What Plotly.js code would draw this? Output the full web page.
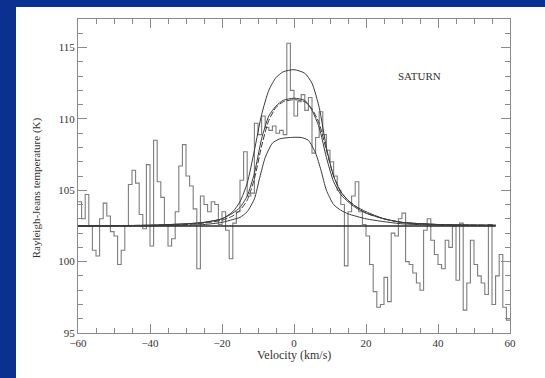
<!DOCTYPE html>
<html><head><meta charset="utf-8">
<script src="https://cdn.plot.ly/plotly-3.0.1.min.js"></script>
<style>html,body{margin:0;padding:0;background:#0a3190;}</style>
</head><body><div id="chart" style="width:545px;height:378px;"></div>
<script>
// Observed spectrum (1 km/s channels)
const velocity = [-60,-59,-58,-57,-56,-55,-54,-53,-52,-51,-50,-49,-48,-47,-46,-45,-44,-43,-42,-41,
 -40,-39,-38,-37,-36,-35,-34,-33,-32,-31,-30,-29,-28,-27,-26,-25,-24,-23,-22,-21,
 -20,-19,-18,-17,-16,-15,-14,-13,-12,-11,-10,-9,-8,-7,-6,-5,-4,-3,-2,-1,
 0,1,2,3,4,5,6,7,8,9,10,11,12,13,14,15,16,17,18,19,
 20,21,22,23,24,25,26,27,28,29,30,31,32,33,34,35,36,37,38,39,
 40,41,42,43,44,45,46,47,48,49,50,51,52,53,54,55,56,57,58,59,60];
const temperature = [104.2,103.0,104.7,102.5,100.8,100.4,103.0,104.1,103.2,102.1,101.8,99.8,100.8,102.5,105.4,106.4,105.5,103.3,102.3,106.8,
 101.1,108.5,105.6,104.5,102.6,101.1,101.6,103.5,106.7,108.2,106.0,105.3,103.7,99.5,104.6,104.0,103.5,104.2,104.0,102.6,
 103.5,102.2,100.2,102.7,103.5,105.7,107.7,104.6,104.8,109.7,108.9,110.2,109.4,109.2,109.5,109.0,109.2,108.9,115.3,112.0,
 110.2,111.2,111.7,110.6,111.5,107.6,108.7,110.5,108.9,107.8,107.0,106.0,105.0,104.0,99.7,103.5,104.6,105.6,103.5,102.6,
 101.8,99.8,97.9,96.8,97.0,98.9,97.2,102.0,101.8,103.0,103.4,100.0,99.8,99.2,98.5,98.0,102.2,103.0,101.5,100.5,
 99.8,99.5,101.5,101.0,102.5,98.7,102.7,96.6,98.5,101.5,99.8,99.0,98.5,97.7,102.6,97.0,99.0,100.5,96.8,95.9,95.9];

// Model profiles
const modelA_v = [-60,-40,-30,-25,-20,-17,-15,-13,-11,-9,-7,-5,-3,0,3,5,7,9,11,13,15,17,20,25,30,40,56];
const modelA_T = [102.5,102.55,102.65,102.75,103.0,103.5,104.2,105.5,107.8,110.3,112.0,112.9,113.3,113.45,113.2,112.5,110.8,108.0,106.0,104.9,104.3,103.9,103.5,103.0,102.75,102.6,102.55];
const modelB_v = [-60,-40,-30,-25,-20,-17,-15,-13,-11,-9,-7,-5,-3,0,3,5,7,9,11,13,15,17,20,25,30,40,56];
const modelB_T = [102.5,102.55,102.65,102.75,103.0,103.4,103.8,104.6,106.2,108.6,110.2,110.9,111.3,111.45,111.3,110.6,109.4,107.3,105.6,104.7,104.2,103.8,103.4,103.0,102.75,102.6,102.55];
const modelC_v = [-60,-40,-30,-25,-20,-17,-15,-13,-11,-9,-7,-5,-3,0,3,5,7,9,11,13,15,17,20,25,30,40,56];
const modelC_T = [102.5,102.55,102.6,102.7,102.9,103.2,103.6,104.3,105.8,108.1,109.9,110.8,111.2,111.35,111.2,110.7,109.7,107.8,106.0,104.9,104.3,103.9,103.4,103.0,102.75,102.6,102.55];
const modelD_v = [-60,-40,-30,-25,-20,-17,-15,-13,-11,-9.5,-8,-6,-4,-1,2,4,6,7.5,9,11,13,15,20,25,30,40,56];
const modelD_T = [102.5,102.5,102.55,102.6,102.75,102.95,103.1,103.5,104.4,105.9,107.3,108.3,108.6,108.7,108.7,108.5,107.6,106.4,105.0,104.0,103.6,103.35,103.0,102.8,102.65,102.55,102.5];
const baseline_v = [-60,56];
const baseline_T = [102.5,102.5];

const serif = "Liberation Serif, DejaVu Serif, serif";
const modelLine = {color:'#3a3a3a', width:1, shape:'spline', smoothing:0.6};
const traces = [
  {x:velocity, y:temperature, mode:'lines', line:{color:'#7d7d7d', width:1.1, shape:'hv'}},
  {x:baseline_v, y:baseline_T, mode:'lines', line:{color:'#2a2a2a', width:1.6}},
  {x:modelA_v, y:modelA_T, mode:'lines', line:modelLine},
  {x:modelB_v, y:modelB_T, mode:'lines', line:modelLine},
  {x:modelC_v, y:modelC_T, mode:'lines', line:Object.assign({}, modelLine, {dash:'6px,2px'})},
  {x:modelD_v, y:modelD_T, mode:'lines', line:modelLine}
];
const axisCommon = {
  showline:true, mirror:'ticks', linecolor:'#8a8a8a', linewidth:1,
  ticks:'inside', tickcolor:'#8a8a8a', tickwidth:1, ticklen:9,
  showgrid:false, zeroline:false,
  tickfont:{family:serif, size:11, color:'#333'}
};
const layout = {
  width:545, height:378,
  margin:{l:78, r:35, t:19, b:45},
  paper_bgcolor:'#0a3190', plot_bgcolor:'#ffffff',
  showlegend:false,
  xaxis:Object.assign({}, axisCommon, {range:[-60,60], tickvals:[-60,-40,-20,0,20,40,60],
     minor:{dtick:5, ticks:'inside', ticklen:5, tickcolor:'#8a8a8a', showgrid:false}}),
  yaxis:Object.assign({}, axisCommon, {range:[95,117], tickvals:[95,100,105,110,115],
     minor:{dtick:1, ticks:'inside', ticklen:5, tickcolor:'#8a8a8a', showgrid:false}}),
  shapes:[{type:'rect', xref:'paper', yref:'paper', x0:(16-78)/432, x1:(545-78)/432, y0:(333-378)/314, y1:(333-7)/314,
     fillcolor:'#ffffff', line:{width:0}, layer:'below'}],
  annotations:[
    {text:'SATURN', x:34.9, y:113.0, xref:'x', yref:'y', showarrow:false, font:{family:serif, size:11, color:'#333'}},
    {text:'Velocity (km/s)', x:0.5, y:-0.07, xref:'paper', yref:'paper', showarrow:false, yanchor:'middle',
       font:{family:serif, size:12, color:'#333'}},
    {text:'Rayleigh-Jeans temperature (K)', x:-0.094, y:0.462, xref:'paper', yref:'paper', showarrow:false,
       textangle:-90, xanchor:'center', yanchor:'middle', font:{family:serif, size:11, color:'#333'}}
  ]
};
Plotly.newPlot('chart', traces, layout, {displayModeBar:false, staticPlot:true});
</script></body></html>
